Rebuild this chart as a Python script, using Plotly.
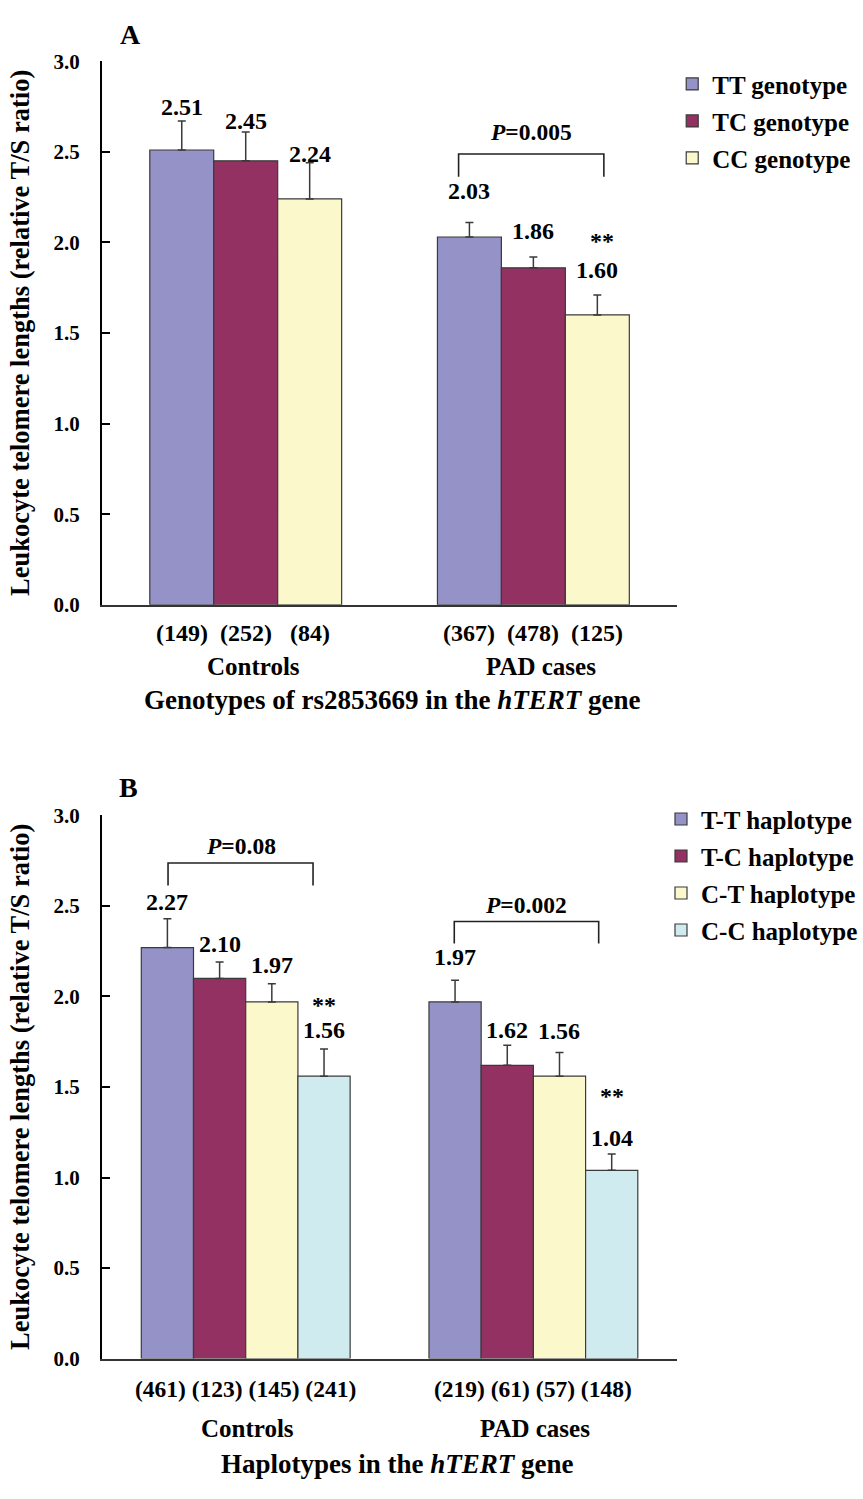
import plotly.graph_objects as go

# ---------------- data ----------------
groups = ["Controls", "PAD cases"]

# Panel A: genotypes of rs2853669
geno_names = ["TT genotype", "TC genotype", "CC genotype"]
tt_mean = [2.51, 2.03]
tt_err = [0.16, 0.08]
tt_n = [149, 367]
tc_mean = [2.45, 1.86]
tc_err = [0.16, 0.06]
tc_n = [252, 478]
cc_mean = [2.24, 1.60]
cc_err = [0.20, 0.11]
cc_n = [84, 125]

# Panel B: haplotypes
hap_names = ["T-T haplotype", "T-C haplotype", "C-T haplotype", "C-C haplotype"]
h_tt_mean = [2.27, 1.97]
h_tt_err = [0.16, 0.12]
h_tt_n = [461, 219]
h_tc_mean = [2.10, 1.62]
h_tc_err = [0.09, 0.11]
h_tc_n = [123, 61]
h_ct_mean = [1.97, 1.56]
h_ct_err = [0.10, 0.13]
h_ct_n = [145, 57]
h_cc_mean = [1.56, 1.04]
h_cc_err = [0.15, 0.09]
h_cc_n = [241, 148]

p_text_a = "P=0.005"
p_text_b_ctrl = "P=0.08"
p_text_b_pad = "P=0.002"

y_ticks = [0.0, 0.5, 1.0, 1.5, 2.0, 2.5, 3.0]

# ---------------- style ----------------
W, H = 863, 1499
FONT = "Liberation Serif"
colors_a = ["#9592C7", "#933162", "#FBF8CC"]
colors_b = ["#9592C7", "#933162", "#FBF8CC", "#CFEBEF"]

XL, XR = 102, 678          # plot area in px
A_TOP, A_BOT = 50, 602.5
B_TOP, B_BOT = 816.5, 1368.5


def ydom(top, bot):
    return [1 - bot / H, 1 - top / H]


def py(p):
    return 1 - p / H


fig = go.Figure()

series_a = [(tt_mean, tt_err, tt_n), (tc_mean, tc_err, tc_n), (cc_mean, cc_err, cc_n)]
series_b = [(h_tt_mean, h_tt_err, h_tt_n), (h_tc_mean, h_tc_err, h_tc_n),
            (h_ct_mean, h_ct_err, h_ct_n), (h_cc_mean, h_cc_err, h_cc_n)]

gap_a = 0.333
gap_b = 0.274


def bar_w(nser, gap):
    return (1 - gap) / nser


def bar_off(i, nser, gap):
    return -(1 - gap) / 2 + bar_w(nser, gap) * i


def bar_x(ci, i, nser, gap):
    return ci + bar_off(i, nser, gap) + bar_w(nser, gap) / 2


for i, (m, e, n) in enumerate(series_a):
    fig.add_trace(go.Bar(
        x=groups, y=m, name=geno_names[i], xaxis="x", yaxis="y",
        width=bar_w(3, gap_a), offset=bar_off(i, 3, gap_a),
        marker=dict(color=colors_a[i], line=dict(color="#3a3a3a", width=1.2)),
        error_y=dict(type="data", array=e, arrayminus=[0] * len(e), symmetric=False,
                     color="#3a3a3a", thickness=1.5, width=4),
        legend="legend", legendgroup=geno_names[i]))

for i, (m, e, n) in enumerate(series_b):
    fig.add_trace(go.Bar(
        x=groups, y=m, name=hap_names[i], xaxis="x2", yaxis="y2",
        width=bar_w(4, gap_b), offset=bar_off(i, 4, gap_b),
        marker=dict(color=colors_b[i], line=dict(color="#3a3a3a", width=1.2)),
        error_y=dict(type="data", array=e, arrayminus=[0] * len(e), symmetric=False,
                     color="#3a3a3a", thickness=1.5, width=4),
        legend="legend2", legendgroup=hap_names[i]))

annotations = []
shapes = []
val_font = dict(family=FONT, size=24, color="black", weight="bold")
cnt_font = dict(family=FONT, size=24, color="black", weight="bold")
grp_font = dict(family=FONT, size=25, color="black", weight="bold")

# value labels (pixel shifts above the error bar tops)
shift_a = [[14, 31], [11, 26], [9, 25]]
shift_b = [[17, 23], [18, 15], [19, 22], [19, 16]]

for i, (m, e, n) in enumerate(series_a):
    for ci in range(2):
        annotations.append(dict(xref="x", yref="y", x=bar_x(ci, i, 3, gap_a), y=m[ci] + e[ci],
                                text=f"{m[ci]:.2f}", showarrow=False, xanchor="center",
                                yanchor="middle", yshift=shift_a[i][ci], font=val_font))
        annotations.append(dict(xref="x", yref="y", x=bar_x(ci, i, 3, gap_a), y=0,
                                text=f"({n[ci]})", showarrow=False, xanchor="center",
                                yanchor="middle", yshift=-28, font=cnt_font))
for i, (m, e, n) in enumerate(series_b):
    for ci in range(2):
        annotations.append(dict(xref="x2", yref="y2", x=bar_x(ci, i, 4, gap_b), y=m[ci] + e[ci],
                                text=f"{m[ci]:.2f}", showarrow=False, xanchor="center",
                                yanchor="middle", yshift=shift_b[i][ci], font=val_font))
# counts in B written as one line per group
for ci in range(2):
    ns = [s[2][ci] for s in series_b]
    annotations.append(dict(xref="x2", yref="y2", x=ci, y=0,
                            text=" ".join(f"({v})" for v in ns), showarrow=False,
                            xanchor="center", yanchor="middle", yshift=-30,
                            font=dict(family=FONT, size=23.5, color="black", weight="bold")))

# group labels
for ci, g in enumerate(groups):
    annotations.append(dict(xref="x", yref="y", x=ci, y=0, text=g, showarrow=False,
                            xanchor="center", yanchor="middle", yshift=-62, xshift=8,
                            font=grp_font))
    annotations.append(dict(xref="x2", yref="y2", x=ci, y=0, text=g, showarrow=False,
                            xanchor="center", yanchor="middle", yshift=-70, xshift=2,
                            font=grp_font))

# stars
annotations.append(dict(xref="x", yref="y", x=bar_x(1, 2, 3, gap_a) + 0.015, y=cc_mean[1] + cc_err[1],
                        text="**", showarrow=False, xanchor="center", yanchor="middle",
                        yshift=54, font=val_font))
annotations.append(dict(xref="x2", yref="y2", x=bar_x(0, 3, 4, gap_b), y=h_cc_mean[0] + h_cc_err[0],
                        text="**", showarrow=False, xanchor="center", yanchor="middle",
                        yshift=44, font=val_font))
annotations.append(dict(xref="x2", yref="y2", x=bar_x(1, 3, 4, gap_b), y=h_cc_mean[1] + h_cc_err[1],
                        text="**", showarrow=False, xanchor="center", yanchor="middle",
                        yshift=58, font=val_font))


# P-value brackets
def bracket(xref, yref, x0, x1, ytop, ybot, text, ytext):
    shapes.append(dict(type="path", xref=xref, yref=yref,
                       path=f"M {x0},{ybot} L {x0},{ytop} L {x1},{ytop} L {x1},{ybot}",
                       line=dict(color="#222", width=1.6)))
    pv = text.split("=")
    annotations.append(dict(xref=xref, yref=yref, x=(x0 + x1) / 2, y=ytext,
                            text=f"<i>{pv[0]}</i>={pv[1]}", showarrow=False,
                            xanchor="center", yanchor="middle",
                            font=dict(family=FONT, size=23.5, color="black", weight="bold")))


bracket("x", "y", 0.74, 1.245, 2.488, 2.363, p_text_a, 2.61)
bracket("x2", "y2", -0.27, 0.234, 2.737, 2.613, p_text_b_ctrl, 2.83)
bracket("x2", "y2", 0.725, 1.227, 2.414, 2.293, p_text_b_pad, 2.505)

# panel letters
big = dict(family=FONT, size=28, color="black", weight="bold")
annotations.append(dict(xref="paper", yref="paper", x=131 / W, y=py(23), text="A",
                        showarrow=False, xanchor="center", yanchor="middle", font=big))
annotations.append(dict(xref="paper", yref="paper", x=129 / W, y=py(788), text="B",
                        showarrow=False, xanchor="center", yanchor="middle", font=big))

# axis titles
title_font = dict(family=FONT, size=27, color="black", weight="bold")
annotations.append(dict(xref="paper", yref="paper", x=393 / W, y=py(699),
                        text="Genotypes of rs2853669 in the <i>hTERT</i> gene",
                        showarrow=False, xanchor="center", yanchor="middle", font=title_font))
annotations.append(dict(xref="paper", yref="paper", x=398 / W, y=py(1476),
                        text="Haplotypes in the <i>hTERT</i> gene",
                        showarrow=False, xanchor="center", yanchor="middle", font=title_font))
ytitle_font = dict(family=FONT, size=26.5, color="black", weight="bold")
for top, bot in [(A_TOP, A_BOT), (B_TOP, B_BOT)]:
    annotations.append(dict(xref="paper", yref="paper", x=20 / W, y=py((top + bot) / 2 + 0),
                            text="Leukocyte telomere lengths (relative T/S ratio)",
                            textangle=-90, showarrow=False, xanchor="center", yanchor="middle",
                            font=ytitle_font))

yaxis_common = dict(range=[0, 3.0], tickvals=y_ticks, ticktext=[f"{v:.1f}" for v in y_ticks],
                    ticks="inside", ticklen=8, tickwidth=2, tickcolor="black",
                    showline=True, linecolor="black", linewidth=2, showgrid=False,
                    zeroline=False, ticklabelstandoff=16,
                    tickfont=dict(family=FONT, size=21, color="black", weight="bold"))
xaxis_common = dict(range=[-0.5, 1.5], showticklabels=False, ticks="", showline=True,
                    linecolor="#333", linewidth=1.5, showgrid=False, zeroline=False,
                    domain=[XL / W, XR / W])

leg_font = dict(family=FONT, size=25, color="black", weight="bold")
fig.update_layout(
    width=W, height=H, margin=dict(l=0, r=0, t=0, b=0),
    paper_bgcolor="white", plot_bgcolor="white",
    barmode="overlay",
    xaxis=dict(**xaxis_common, anchor="y", type="category"),
    yaxis=dict(**yaxis_common, domain=ydom(A_TOP, A_BOT), anchor="x"),
    xaxis2=dict(**xaxis_common, anchor="y2", type="category"),
    yaxis2=dict(**yaxis_common, domain=ydom(B_TOP, B_BOT), anchor="x2"),
    legend=dict(x=673 / W, y=py(50), xanchor="left", yanchor="top", font=leg_font,
                bgcolor="rgba(0,0,0,0)", tracegroupgap=1.5, itemwidth=30),
    legend2=dict(x=662 / W, y=py(797), xanchor="left", yanchor="top", font=leg_font,
                 bgcolor="rgba(0,0,0,0)", tracegroupgap=1.5, itemwidth=30),
    annotations=annotations, shapes=shapes, showlegend=True,
    font=dict(family=FONT, color="black"),
)

fig.write_html("out.html", config={"displayModeBar": False},
               post_script="document.body.style.margin='0';document.body.style.overflow='hidden';")
